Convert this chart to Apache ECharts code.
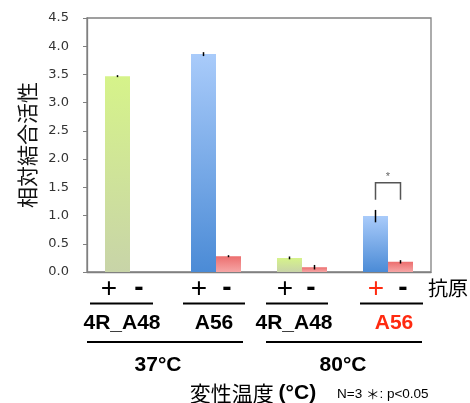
<!DOCTYPE html>
<html><head><meta charset="utf-8">
<script src="https://cdn.jsdelivr.net/npm/echarts@6/dist/echarts.min.js"></script>
<style>html,body{margin:0;padding:0;background:#fff}#c{width:470px;height:403px}</style>
</head><body><div id="c"></div>
<script>
// ---- data ----
const groupLabels = ['4R_A48', 'A56', '4R_A48', 'A56'];
const signLabels = ['+', '-'];
const tempLabels = ['37°C', '80°C'];
const valuesPlus = [3.47, 3.86, 0.25, 0.99];
const valuesMinus = [null, 0.28, 0.085, 0.18];
const errorsPlus = [0.01, 0.035, 0.025, 0.11];
const errorsMinus = [null, 0.012, 0.04, 0.03];
const yMin = 0, yMax = 4.5, yStep = 0.5;
const sigGroup = 3, sigLeg = 1.28, sigTop = 1.58, sigMark = '*';
const yTitle = '相対結合活性';
const xTitle = '変性温度';
const xUnit = '(°C)';
const antigenTitle = '抗原';
const noteParts = ['N=3 ', '＊', ': p<0.05'];

// ---- styles ----
const grad = (t, b) => new echarts.graphic.LinearGradient(0, 0, 0, 1, [{offset: 0, color: t}, {offset: 1, color: b}]);
const GREEN = grad('#d6f38a', '#c8d4a8');
const BLUE = grad('#a9cbfa', '#4b8bd6');
const RED = grad('#ec6e6e', '#f6a6a6');
const BW = 25;
const LAT = 'Liberation Sans, Arial, sans-serif';
const CJK = 'Noto Sans CJK JP, sans-serif';

const chart = echarts.init(document.getElementById('c'), null, {renderer: 'canvas'});

function errData(vals, errs, side) {
  const out = [];
  vals.forEach((v, i) => { if (v != null) out.push([i, v, errs[i], side]); });
  return out;
}

const errRender = (params, api) => {
  const c = api.value(0), v = api.value(1), e = api.value(2), side = api.value(3);
  const p = api.coord([c, v]);
  let t = api.coord([c, v + e])[1], b = api.coord([c, v - e])[1];
  if (b - t < 2) { t = p[1] - 1; b = p[1] + 1; }
  const x = p[0] + side * BW / 2;
  return {type: 'line', shape: {x1: x, y1: t, x2: x, y2: b}, style: {stroke: '#000', lineWidth: 1.5}};
};

const sigRender = (params, api) => {
  const c = api.value(0);
  const leg = api.coord([c, api.value(1)]);
  const top = api.coord([c, api.value(2)]);
  const x1 = leg[0] - BW / 2, x2 = leg[0] + BW / 2;
  return {type: 'group', children: [
    {type: 'polyline', shape: {points: [[x1, leg[1]], [x1, top[1]], [x2, top[1]], [x2, leg[1]]]},
     style: {stroke: '#555', lineWidth: 1.5, fill: null}},
    {type: 'text', style: {text: sigMark, x: leg[0], y: top[1] - 6, align: 'center', verticalAlign: 'middle',
     fill: '#666', font: '11px ' + LAT}}
  ]};
};

chart.setOption({
  animation: false,
  backgroundColor: '#fff',
  grid: {left: 87, right: 39, top: 18, bottom: 131, show: true, borderColor: '#808080', borderWidth: 1.3, backgroundColor: 'transparent'},
  xAxis: {
    type: 'category', data: groupLabels,
    axisLine: {show: true, lineStyle: {color: '#808080', width: 1.3}},
    axisTick: {show: false},
    axisLabel: {show: false}
  },
  yAxis: {
    type: 'value', min: yMin, max: yMax, interval: yStep,
    name: yTitle, nameLocation: 'middle', nameRotate: 90, nameGap: 49,
    nameTextStyle: {fontFamily: CJK, fontSize: 21, color: '#111'},
    axisLine: {show: true, lineStyle: {color: '#808080', width: 1.3}},
    axisTick: {show: true, length: 4, lineStyle: {color: '#808080'}},
    splitLine: {show: false},
    axisLabel: {margin: 18, fontSize: 13, color: '#333', fontFamily: 'DejaVu Sans, sans-serif',
      formatter: v => v.toFixed(1)}
  },
  series: [
    {type: 'bar', barWidth: BW, barGap: '0%', z: 2,
     data: valuesPlus.map((v, i) => ({value: v, itemStyle: {color: i % 2 === 0 ? GREEN : BLUE}}))},
    {type: 'bar', barWidth: BW, barGap: '0%', z: 2,
     data: valuesMinus.map(v => (v == null ? '-' : {value: v, itemStyle: {color: RED}}))},
    {type: 'custom', renderItem: errRender, z: 5, data: errData(valuesPlus, errorsPlus, -1)},
    {type: 'custom', renderItem: errRender, z: 5, data: errData(valuesMinus, errorsMinus, 1)},
    {type: 'custom', renderItem: sigRender, z: 5, data: [[sigGroup, sigLeg, sigTop]]}
  ]
});

// ---- annotations below the axis, anchored on category centers ----
const cx = groupLabels.map((g, i) => chart.convertToPixel({xAxisIndex: 0}, i));
const plusOff = [-21, -17, -17, -12];
const minusOff = [9, 11, 9, 15];
const nameOff = [-8, -2, -8, 6];
const ulOff = [[-40, 23], [-33, 29], [-36, 26], [-28, 35]];
const g = [];
groupLabels.forEach((name, i) => {
  const red = i === 3;
  g.push({type: 'text', x: cx[i] + plusOff[i], y: 289, style: {text: signLabels[0], align: 'center', verticalAlign: 'middle',
    font: '28px ' + LAT, fill: red ? '#ff2a10' : '#000'}});
  g.push({type: 'text', x: cx[i] + minusOff[i], y: 288, style: {text: signLabels[1], align: 'center', verticalAlign: 'middle',
    font: 'bold 28px ' + LAT, fill: '#000'}});
  g.push({type: 'line', shape: {x1: cx[i] + ulOff[i][0], y1: 303.5, x2: cx[i] + ulOff[i][1], y2: 303.5}, style: {stroke: '#000', lineWidth: 2}});
  g.push({type: 'text', x: cx[i] + nameOff[i], y: 323, style: {text: name, align: 'center', verticalAlign: 'middle',
    font: 'bold 21px ' + LAT, fill: red ? '#ff2a10' : '#000'}});
});
// temperature rows
const tempSpan = [[cx[0] - 43, cx[1] + 27], [cx[2] - 36, cx[3] + 34]];
const tempX = [158, 343];
tempLabels.forEach((t, k) => {
  g.push({type: 'line', shape: {x1: tempSpan[k][0], y1: 342, x2: tempSpan[k][1], y2: 342}, style: {stroke: '#000', lineWidth: 2}});
  g.push({type: 'text', x: tempX[k], y: 365, style: {text: t, align: 'center', verticalAlign: 'middle', font: 'bold 21px ' + LAT, fill: '#000'}});
});
g.push({type: 'text', x: 428, y: 288, style: {text: antigenTitle, align: 'left', verticalAlign: 'middle', font: '20px ' + CJK, fill: '#000'}});
g.push({type: 'text', x: 253, y: 393, style: {
  text: '{a|' + xTitle + ' }{b|' + xUnit + '}', align: 'center', verticalAlign: 'middle',
  rich: {a: {fontFamily: CJK, fontSize: 21, color: '#000'}, b: {fontFamily: LAT, fontWeight: 'bold', fontSize: 21, color: '#000'}}}});
g.push({type: 'text', x: 337, y: 394, style: {
  text: '{n|' + noteParts[0] + '}{s|' + noteParts[1] + '}{n|' + noteParts[2] + '}', align: 'left', verticalAlign: 'middle',
  rich: {n: {fontFamily: LAT, fontSize: 13.5, color: '#333'}, s: {fontFamily: CJK, fontSize: 13.5, color: '#333'}}}});
chart.setOption({graphic: g});
</script>
</body></html>
